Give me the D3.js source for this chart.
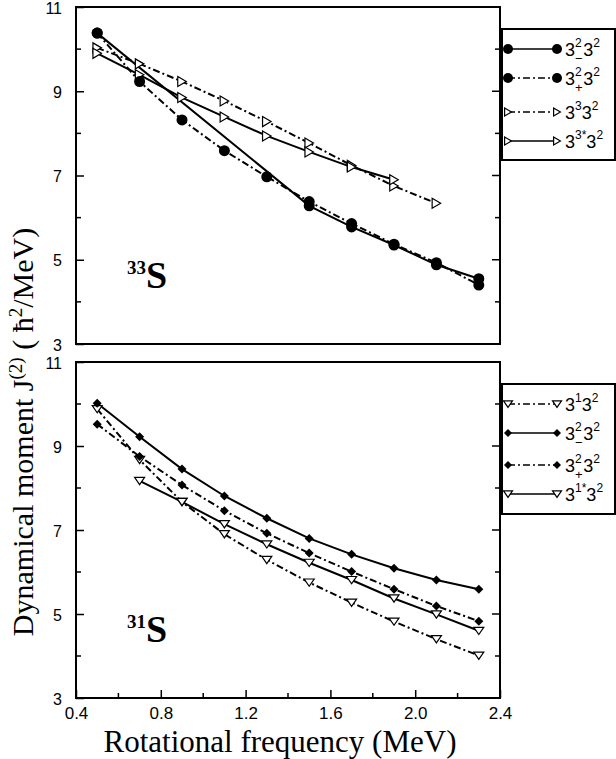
<!DOCTYPE html>
<html><head><meta charset="utf-8">
<script src="https://cdn.jsdelivr.net/npm/d3@7"></script>
<style>body{margin:0;background:#fff}svg{display:block}</style>
</head><body>
<svg id="c" width="616" height="759"></svg>
<script>
// ---- data ----
const xTicks = [0.4, 0.8, 1.2, 1.6, 2.0, 2.4];
const yTicks = [3, 5, 7, 9, 11];
const freqAll = [0.5, 0.7, 0.9, 1.1, 1.3, 1.5, 1.7, 1.9, 2.1, 2.3];

// 33S
const f33Minus = [0.5, 1.5, 1.7, 1.9, 2.1, 2.3];
const j33Minus = [10.38, 6.28, 5.78, 5.35, 4.88, 4.55];
const f33Plus = freqAll;
const j33Plus = [10.38, 9.23, 8.32, 7.59, 6.97, 6.38, 5.86, 5.37, 4.93, 4.40];
const f33_33 = [0.5, 0.7, 0.9, 1.1, 1.3, 1.5, 1.7, 1.9, 2.1];
const j33_33 = [10.03, 9.65, 9.23, 8.77, 8.28, 7.77, 7.24, 6.75, 6.34];
const f33_33s = [0.5, 0.7, 0.9, 1.1, 1.3, 1.5, 1.7, 1.9];
const j33_33s = [9.90, 9.39, 8.85, 8.39, 7.94, 7.56, 7.20, 6.90];

// 31S
const f31_13 = freqAll;
const j31_13 = [9.88, 8.67, 7.67, 6.90, 6.29, 5.75, 5.27, 4.82, 4.40, 4.01];
const f31Minus = freqAll;
const j31Minus = [10.02, 9.22, 8.45, 7.81, 7.28, 6.80, 6.42, 6.09, 5.81, 5.59];
const f31Plus = freqAll;
const j31Plus = [9.52, 8.75, 8.07, 7.46, 6.92, 6.45, 6.01, 5.59, 5.19, 4.83];
const f31_13s = [0.7, 0.9, 1.1, 1.3, 1.5, 1.7, 1.9, 2.1, 2.3];
const j31_13s = [8.17, 7.67, 7.14, 6.66, 6.22, 5.81, 5.37, 4.99, 4.60];

// ---- drawing ----
const svg = d3.select("#c");
const X0 = 76, X1 = 500;
const x = d3.scaleLinear().domain([0.4, 2.4]).range([X0, X1]);
const yTop = d3.scaleLinear().domain([3, 11]).range([344, 7]);
const yBot = d3.scaleLinear().domain([3, 11]).range([698, 362]);
const DASHDOT = "7,3,2,3";
const sans = "'Liberation Sans', Arial, sans-serif";
const serif = "'Liberation Serif', 'Times New Roman', serif";

function marker(g, type, cx, cy, s) {
  if (type === "circle") {
    g.append("circle").attr("cx", cx).attr("cy", cy).attr("r", s).attr("fill", "#000");
  } else if (type === "tri") { // right-pointing open
    g.append("path").attr("d", `M${cx - s * 0.85},${cy - s}L${cx + s * 0.85},${cy}L${cx - s * 0.85},${cy + s}Z`)
      .attr("fill", "#fff").attr("stroke", "#000").attr("stroke-width", 1.2);
  } else if (type === "dtri") { // down-pointing open
    g.append("path").attr("d", `M${cx - s},${cy - s * 0.7}L${cx + s},${cy - s * 0.7}L${cx},${cy + s * 0.75}Z`)
      .attr("fill", "#fff").attr("stroke", "#000").attr("stroke-width", 1.2);
  } else if (type === "diamond") {
    g.append("path").attr("d", `M${cx},${cy - s}L${cx + s},${cy}L${cx},${cy + s}L${cx - s},${cy}Z`)
      .attr("fill", "#000");
  }
}

function panel(y, series, showX) {
  const g = svg.append("g");
  const left = d3.axisLeft(y).tickValues(yTicks).tickSizeInner(-8).tickSizeOuter(0).tickPadding(14)
    .tickFormat(d3.format("d"));
  const ga = g.append("g").attr("transform", `translate(${X0},0)`).call(left);
  ga.select(".domain").remove();
  ga.selectAll("text").attr("font-family", sans).attr("font-size", 16).attr("fill", "#000").attr("dy", "0.38em");
  ga.selectAll("line").attr("stroke-width", 1.5);
  const minorY = [4, 6, 8, 10];
  minorY.forEach(v => {
    g.append("line").attr("x1", X0).attr("x2", X0 + 5).attr("y1", y(v)).attr("y2", y(v)).attr("stroke", "#000").attr("stroke-width", 1.5);
  });
  [...yTicks, ...minorY].forEach(v => {
    const len = yTicks.includes(v) ? 8 : 5;
    g.append("line").attr("x1", X1).attr("x2", X1 - len).attr("y1", y(v)).attr("y2", y(v)).attr("stroke", "#000").attr("stroke-width", 1.5);
  });
  if (showX) {
    const bottom = d3.axisBottom(x).tickValues(xTicks).tickSizeInner(-8).tickSizeOuter(0).tickPadding(9)
      .tickFormat(d3.format(".1f"));
    const gb = g.append("g").attr("transform", `translate(0,${y.range()[0]})`).call(bottom);
    gb.select(".domain").remove();
    gb.selectAll("text").attr("font-family", sans).attr("font-size", 17).attr("fill", "#000");
    gb.selectAll("line").attr("stroke-width", 1.5);
    [0.6, 1.0, 1.4, 1.8, 2.2].forEach(v => {
      g.append("line").attr("x1", x(v)).attr("x2", x(v)).attr("y1", y.range()[0]).attr("y2", y.range()[0] - 5).attr("stroke", "#000").attr("stroke-width", 1.5);
    });
  }
  g.append("rect").attr("x", X0).attr("y", y.range()[1]).attr("width", X1 - X0)
    .attr("height", y.range()[0] - y.range()[1]).attr("fill", "none").attr("stroke", "#000").attr("stroke-width", 2);
  const line = d3.line().x(d => x(d[0])).y(d => y(d[1]));
  series.forEach(s => {
    const pts = s.f.map((f, i) => [f, s.j[i]]);
    g.append("path").attr("d", line(pts)).attr("fill", "none").attr("stroke", "#000")
      .attr("stroke-width", 2).attr("stroke-dasharray", s.dash ? DASHDOT : null);
  });
  series.forEach(s => {
    s.f.forEach((f, i) => marker(g, s.m, x(f), y(s.j[i]), s.size));
  });
}

const topSeries = [
  {f: f33_33, j: j33_33, m: "tri", dash: true, size: 5},
  {f: f33_33s, j: j33_33s, m: "tri", dash: false, size: 5},
  {f: f33Plus, j: j33Plus, m: "circle", dash: true, size: 5.5},
  {f: f33Minus, j: j33Minus, m: "circle", dash: false, size: 5.5},
];
const botSeries = [
  {f: f31_13, j: j31_13, m: "dtri", dash: true, size: 5},
  {f: f31_13s, j: j31_13s, m: "dtri", dash: false, size: 5},
  {f: f31Plus, j: j31Plus, m: "diamond", dash: true, size: 4.5},
  {f: f31Minus, j: j31Minus, m: "diamond", dash: false, size: 4.5},
];
panel(yTop, topSeries, false);
panel(yBot, botSeries, true);

function nucleus(xp, yp, mass) {
  const t = svg.append("text").attr("x", xp).attr("y", yp).attr("font-family", serif).attr("font-weight", "bold");
  t.append("tspan").attr("font-size", 19).attr("dy", -14).text(mass);
  t.append("tspan").attr("font-size", 38).attr("dy", 14).text("S");
}
nucleus(127, 288, "33");
nucleus(127, 642, "31");

function legend(top, bottom, items) {
  const g = svg.append("g");
  g.append("rect").attr("x", 502).attr("y", top).attr("width", 113).attr("height", bottom - top)
    .attr("fill", "#fff").attr("stroke", "#000").attr("stroke-width", 2);
  items.forEach(it => {
    const cy = it.y;
    g.append("line").attr("x1", 508).attr("x2", 557).attr("y1", cy).attr("y2", cy)
      .attr("stroke", "#000").attr("stroke-width", 1.5).attr("stroke-dasharray", it.dash ? DASHDOT : null);
    marker(g, it.m, 508, cy, it.s);
    marker(g, it.m, 557, cy, it.s);
    const t = g.append("text").attr("x", 565).attr("y", cy + 7).attr("font-family", sans).attr("font-size", 18);
    t.append("tspan").text("3");
    t.append("tspan").attr("font-size", 12).attr("dy", -9).text(it.sup1);
    if (it.sub) {
      t.append("tspan").attr("x", 575).attr("font-size", 13).attr("dy", 16).text(it.sub);
      t.append("tspan").attr("x", 575 + it.sup1.length * 6.7 + 1.5).attr("dy", -7).text("3");
    } else {
      t.append("tspan").attr("dy", 9).text("3");
    }
    t.append("tspan").attr("font-size", 12).attr("dy", -9).text("2");
  });
}
legend(29, 160, [
  {y: 49, m: "circle", s: 5, dash: false, sup1: "2", sub: "\u2212"},
  {y: 78, m: "circle", s: 5, dash: true, sup1: "2", sub: "+"},
  {y: 112, m: "tri", s: 4, dash: true, sup1: "3"},
  {y: 141, m: "tri", s: 4, dash: false, sup1: "3*"},
]);
legend(384, 514, [
  {y: 404, m: "dtri", s: 4.5, dash: true, sup1: "1"},
  {y: 433, m: "diamond", s: 4, dash: false, sup1: "2", sub: "\u2212"},
  {y: 465, m: "diamond", s: 4, dash: true, sup1: "2", sub: "+"},
  {y: 494, m: "dtri", s: 4.5, dash: false, sup1: "1*"},
]);

svg.append("text").attr("x", 280).attr("y", 752).attr("text-anchor", "middle")
  .attr("font-family", serif).attr("font-size", 31).text("Rotational frequency (MeV)");
const yl = svg.append("text").attr("transform", "translate(33,432) rotate(-90)").attr("text-anchor", "middle")
  .attr("font-family", serif).attr("font-size", 30);
yl.append("tspan").text("Dynamical moment J");
yl.append("tspan").attr("font-size", 19).attr("dy", -11).text("(2)");
yl.append("tspan").attr("dy", 11).text(" ( \u0127");
yl.append("tspan").attr("font-size", 19).attr("dy", -11).text("2");
yl.append("tspan").attr("dy", 11).text("/MeV)");
</script>
</body></html>
